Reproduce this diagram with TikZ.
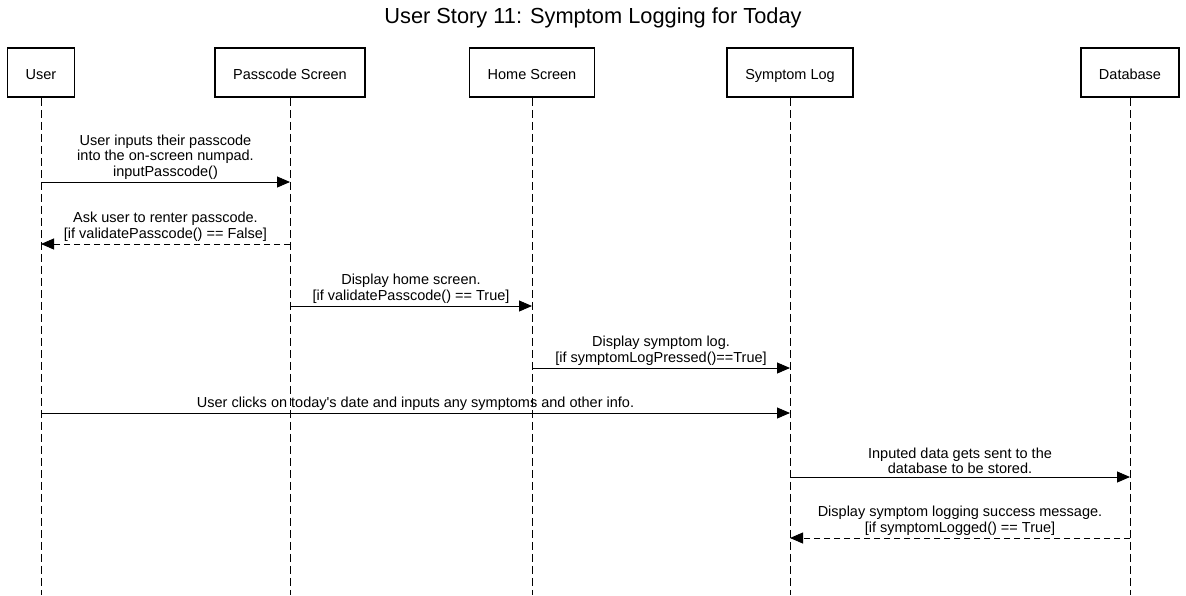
\documentclass[tikz,border=0pt]{standalone}
\usepackage{fontspec}
\setmainfont{Liberation Sans}
\usetikzlibrary{positioning,calc,arrows.meta}

\begin{document}
\begin{tikzpicture}[x=1pt,y=-1pt,
    actor/.style={draw, line width=1.8pt, minimum height=49pt, inner sep=0pt, text height=13pt, text depth=0pt, font=\fontsize{14.5}{16}\selectfont},
    life/.style={line width=0.9pt, dash pattern=on 8pt off 4pt},
    msg/.style={line width=0.9pt, -{Triangle[length=13pt,width=11pt]}},
    reply/.style={msg, dash pattern=on 6pt off 4pt},
    lbl/.style={anchor=south, align=center, inner sep=2.5pt, font=\fontsize{14.5}{15.5}\selectfont}
]
    \useasboundingbox (0,0) rectangle (1186,595);

    \node [font=\fontsize{21.8}{24}\selectfont] (title) at (593,18) {User Story 11: Symptom Logging for Today};

    % Participants
    \node [actor, minimum width=67pt] (user) at (41,72.5) {User};
    \node [actor, minimum width=150pt] (pass) at (290,72.5) {Passcode Screen};
    \node [actor, minimum width=125pt] (home) at (532,72.5) {Home Screen};
    \node [actor, minimum width=126pt] (slog) at (790,72.5) {Symptom Log};
    \node [actor, minimum width=98pt] (db) at (1130,72.5) {Database};

    % Lifelines
    \coordinate (bottom) at (0,595);
    \foreach \p in {user,pass,home,slog,db}
        \draw [life] (\p.south) -- (\p.south |- bottom);

    % Message rows
    \coordinate (m1) at (0,182);
    \coordinate (m2) at (0,244);
    \coordinate (m3) at (0,306);
    \coordinate (m4) at (0,368);
    \coordinate (m5) at (0,413);
    \coordinate (m6) at (0,477);
    \coordinate (m7) at (0,538);

    \draw [msg] (user |- m1) -- node [lbl] {User inputs their passcode\\into the on-screen numpad.\\inputPasscode()} (pass |- m1);
    \draw [reply] (pass |- m2) -- node [lbl] {Ask user to renter passcode.\\{[if validatePasscode() == False]}} (user |- m2);
    \draw [msg] (pass |- m3) -- node [lbl] {Display home screen.\\{[if validatePasscode() == True]}} (home |- m3);
    \draw [msg] (home |- m4) -- node [lbl] {Display symptom log.\\{[if symptomLogPressed()==True]}} (slog |- m4);
    \draw [msg] (user |- m5) -- node [lbl] {User clicks on today\textquotesingle s date and inputs any symptoms and other info.} (slog |- m5);
    \draw [msg] (slog |- m6) -- node [lbl] {Inputed data gets sent to the\\database to be stored.} (db |- m6);
    \draw [reply] (db |- m7) -- node [lbl] {Display symptom logging success message.\\{[if symptomLogged() == True]}} (slog |- m7);

\end{tikzpicture}
\end{document}
